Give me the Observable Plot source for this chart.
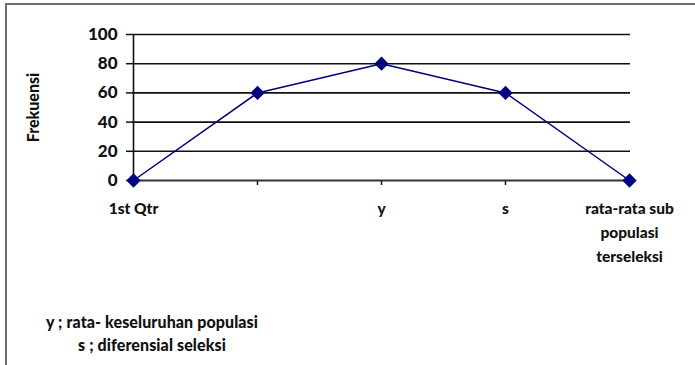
<!DOCTYPE html>
<html>
<head>
<meta charset="utf-8">
<script src="https://cdn.jsdelivr.net/npm/d3@7"></script>
<script src="https://cdn.jsdelivr.net/npm/@observablehq/plot@0.6"></script>
<style>
  html, body { margin: 0; padding: 0; background: #fff; }
  body { width: 695px; height: 365px; overflow: hidden; position: relative; font-family: Lato, "Open Sans", sans-serif; }
  #frame { position: absolute; left: 5px; top: 3px; width: 720px; height: 400px; border: 2px solid #6e6e6e; box-sizing: border-box; }
  #chart { position: absolute; left: 0; top: 0; }
  .note { position: absolute; left: 0; width: 304px; text-align: center; font-weight: 900; font-size: 16px; color: #111; white-space: nowrap; letter-spacing: 0.1px; }
</style>
</head>
<body>
<div id="frame"></div>
<div id="chart"></div>
<div class="note" style="top:312px">y ; rata- keseluruhan populasi</div>
<div class="note" style="top:335px">s ; diferensial seleksi</div>
<script>
const categories = ["1st Qtr", "", "y", "s", "rata-rata sub populasi terseleksi"];
const tickLabels = ["1st Qtr", "", "y", "s", "rata-rata sub\npopulasi\nterseleksi"];
const values = [0, 60, 80, 60, 0];
const yTicks = [0, 20, 40, 60, 80, 100];

const data = categories.map((c, i) => ({cat: c, value: values[i]}));
const labelOf = new Map(categories.map((c, i) => [c, tickLabels[i]]));

const chart = Plot.plot({
  width: 695,
  height: 365,
  marginLeft: 132,
  marginRight: 65,
  marginTop: 34,
  marginBottom: 185,
  style: {fontFamily: "Lato, 'Open Sans', sans-serif", fontWeight: "900", fontSize: "15px", color: "#111", background: "transparent"},
  x: {type: "point", domain: categories, padding: 0},
  y: {domain: [0, 100]},
  marks: [
    Plot.ruleY(yTicks.filter(d => d > 0), {stroke: "#111", strokeWidth: 1.6}),
    Plot.axisY({ticks: yTicks, tickSize: 6, tickPadding: 9, fontSize: 17, fontWeight: "900", label: null, stroke: "#111", strokeWidth: 1.5}),
    Plot.axisX({tickSize: 5, tickPadding: 11, tickFormat: d => labelOf.get(d), lineHeight: 1.55, fontSize: 15.5, fontWeight: "900", label: null, stroke: "#111", strokeWidth: 1.5}),
    Plot.ruleX([categories[0]], {y1: 0, y2: 100, stroke: "#111", strokeWidth: 1.6}),
    Plot.ruleY([0], {stroke: "#333", strokeWidth: 2}),
    Plot.text(["Frekuensi"], {frameAnchor: "left", textAnchor: "middle", rotate: -90, dx: -99, fontSize: 16, fontWeight: "900", fill: "#111"}),
    Plot.line(data, {x: "cat", y: "value", stroke: "#000080", strokeWidth: 1.5}),
    Plot.dot(data, {x: "cat", y: "value", symbol: "diamond2", r: 5.5, fill: "#000080", stroke: "#000080"})
  ]
});
document.getElementById("chart").append(chart);
</script>
</body>
</html>
